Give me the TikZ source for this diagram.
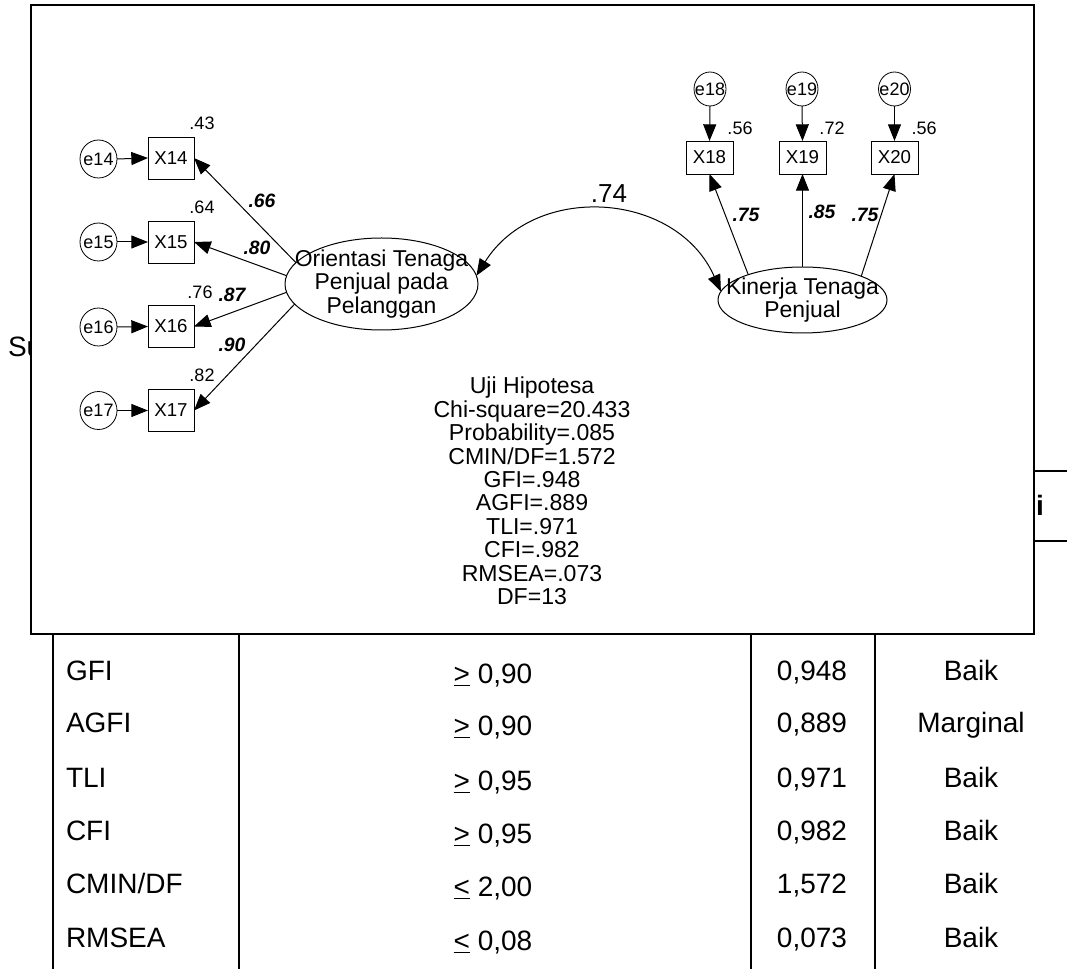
\documentclass[tikz,border=0pt]{standalone}
\usepackage{fontspec}
\setmainfont{Liberation Sans}
\usetikzlibrary{arrows.meta,shapes.geometric}
\begin{document}
\begin{tikzpicture}[x=0.75pt,y=-0.75pt,
  every node/.style={inner sep=0pt, outer sep=0pt},
  tip/.style={Triangle[length=12.5pt,width=9.75pt]},
  link/.style={line width=0.75pt, -{Triangle[length=12.5pt,width=9.75pt]}},
  cov/.style={line width=0.75pt, {Triangle[length=12.5pt,width=9.75pt]}-{Triangle[length=12.5pt,width=9.75pt]}},
  errl/.style={draw, ellipse, line width=0.6pt, minimum width=27.75pt, minimum height=28.5pt},
  errr/.style={draw, ellipse, line width=0.6pt, minimum width=24pt, minimum height=25.5pt},
  errtext/.style={font=\fontsize{13.5}{15}\selectfont},
  obsl/.style={draw, rectangle, line width=0.6pt, minimum width=34.5pt, minimum height=31.5pt, font=\fontsize{14}{16}\selectfont},
  obsr/.style={draw, rectangle, line width=0.6pt, minimum width=35.25pt, minimum height=24.75pt, font=\fontsize{14}{16}\selectfont},
  latent/.style={draw, ellipse, line width=0.75pt},
  lvtext/.style={font=\fontsize{17.2}{17.8}\selectfont, align=center},
  rsq/.style={font=\fontsize{13.5}{15}\selectfont},
  coef/.style={font=\fontsize{14.5}{16}\selectfont\bfseries\itshape},
  cell/.style={font=\fontsize{21}{24}\selectfont, anchor=base},
  rule/.style={line width=1.2pt}
]
\useasboundingbox (0,0) rectangle (1067,969);

% ---- table lying under the model figure ----
\node[cell, anchor=base west] (su) at (8,357) {Su};
\node[cell, anchor=base east, font=\fontsize{21}{24}\selectfont\bfseries] (hd) at (1044,515) {si};
\draw[rule] (53,471) -- (1067,471);
\draw[rule] (53,541) -- (1067,541);
\foreach \cx in {53,239,751,875} \draw[rule] (\cx,471) -- (\cx,969);

\node[cell, anchor=base west] (r1a) at (66,680) {GFI};
\node[cell, anchor=base west] (r2a) at (66,732) {AGFI};
\node[cell, anchor=base west] (r3a) at (66,787) {TLI};
\node[cell, anchor=base west] (r4a) at (66,840) {CFI};
\node[cell, anchor=base west] (r5a) at (66,893) {CMIN/DF};
\node[cell, anchor=base west] (r6a) at (66,947) {RMSEA};

\node[cell] (r1b) at (493,683) {\underline{>} 0,90};
\node[cell] (r2b) at (493,735) {\underline{>} 0,90};
\node[cell] (r3b) at (493,790) {\underline{>} 0,95};
\node[cell] (r4b) at (493,843) {\underline{>} 0,95};
\node[cell] (r5b) at (493,896) {\underline{<} 2,00};
\node[cell] (r6b) at (493,950) {\underline{<} 0,08};

\node[cell] (r1c) at (812,680) {0,948};
\node[cell] (r2c) at (812,732) {0,889};
\node[cell] (r3c) at (812,787) {0,971};
\node[cell] (r4c) at (812,840) {0,982};
\node[cell] (r5c) at (812,893) {1,572};
\node[cell] (r6c) at (812,947) {0,073};

\node[cell] (r1d) at (971,680) {Baik};
\node[cell] (r2d) at (971,732) {Marginal};
\node[cell] (r3d) at (971,787) {Baik};
\node[cell] (r4d) at (971,840) {Baik};
\node[cell] (r5d) at (971,893) {Baik};
\node[cell] (r6d) at (971,947) {Baik};

% ---- model figure frame ----
\draw[line width=1.5pt, fill=white] (31,5) rectangle (1034,634);

% latent variables
\node[latent, minimum width=144.75pt, minimum height=69pt,
  label={[lvtext]center:{Orientasi Tenaga\\Penjual pada\\Pelanggan}}] (o1) at (381.5,284) {};
\node[latent, minimum width=126.75pt, minimum height=49.5pt,
  label={[lvtext]center:{Kinerja Tenaga\\Penjual}}] (o2) at (802.5,300) {};

% indicators, left
\node[obsl] (x14) at (171,158) {X14};
\node[obsl] (x15) at (171,242) {X15};
\node[obsl] (x16) at (171,326.5) {X16};
\node[obsl] (x17) at (171,410.5) {X17};
\node[errl, label={[errtext]center:e14}] (e14) at (98.5,159) {};
\node[errl, label={[errtext]center:e15}] (e15) at (98.5,242) {};
\node[errl, label={[errtext]center:e16}] (e16) at (98.5,327) {};
\node[errl, label={[errtext]center:e17}] (e17) at (98.5,410.5) {};

% indicators, right
\node[obsr] (x18) at (709.5,157.5) {X18};
\node[obsr] (x19) at (802.5,157.5) {X19};
\node[obsr] (x20) at (894.5,157.5) {X20};
\node[errr, label={[errtext]center:e18}] (e18) at (710,89) {};
\node[errr, label={[errtext]center:e19}] (e19) at (802,89) {};
\node[errr, label={[errtext]center:e20}] (e20) at (894.5,89) {};

% error paths
\foreach \n in {14,15,16,17} \draw[link] (e\n.east) -- (x\n.west);
\foreach \n in {18,19,20} \draw[link] (e\n.south) -- (x\n.north);

% loadings
\draw[link] (o1.166.6) -- (x14.east);
\draw[link] (o1.175.9) -- (x15.east);
\draw[link] (o1.185.3) -- (x16.east);
\draw[link] (o1.193.3) -- (x17.east);
\draw[link] (o2.155.2) -- (x18.south);
\draw[link] (o2.90) -- (x19.south);
\draw[link] (o2.22.8) -- (x20.south);

% correlation
\draw[cov] (o1.5) to[out=58, in=114, looseness=1.15] (o2.174);
\node[font=\fontsize{19.5}{21}\selectfont] (r) at (609,194) {.74};

% squared multiple correlations
\node[rsq] (s14) at (202,123) {.43};
\node[rsq] (s15) at (202,207) {.64};
\node[rsq] (s16) at (200,292) {.76};
\node[rsq] (s17) at (202,375) {.82};
\node[rsq] (s18) at (740,128) {.56};
\node[rsq] (s19) at (832,128) {.72};
\node[rsq] (s20) at (924,128) {.56};

% standardized loadings
\node[coef] (l14) at (262,201) {.66};
\node[coef] (l15) at (257,248) {.80};
\node[coef] (l16) at (232,295) {.87};
\node[coef] (l17) at (232,345) {.90};
\node[coef] (l18) at (746,215) {.75};
\node[coef] (l19) at (822,212) {.85};
\node[coef] (l20) at (865,215) {.75};

% fit statistics
\node[font=\fontsize{17.3}{17.6}\selectfont, align=center] (fit) at (532,491)
  {Uji Hipotesa\\Chi-square=20.433\\Probability=.085\\CMIN/DF=1.572\\GFI=.948\\AGFI=.889\\TLI=.971\\CFI=.982\\RMSEA=.073\\DF=13};
\end{tikzpicture}
\end{document}
